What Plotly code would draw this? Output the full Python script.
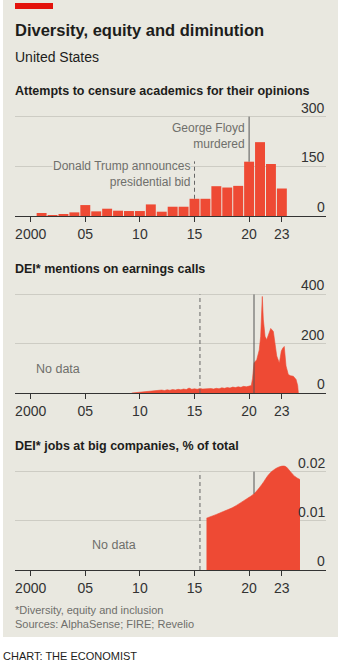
import plotly.graph_objects as go

W, H = 342, 665

# ---------------- data ----------------
CENSURE_YEARS = list(range(2001, 2024))
CENSURE_COUNTS = [9, 2, 6, 11, 33, 14, 22, 16, 15, 15, 35, 13, 28, 28,
                  52, 52, 90, 86, 91, 164, 223, 157, 83]

DEI_CALL_DATES = [
    2009.25, 2009.5, 2009.75, 2010.0, 2010.25, 2010.5, 2010.75, 2011.0,
    2011.25, 2011.5, 2011.75, 2012.0, 2012.25, 2012.5, 2012.75, 2013.0,
    2013.25, 2013.5, 2013.75, 2014.0, 2014.25, 2014.5, 2014.75, 2015.0,
    2015.25, 2015.5, 2015.75, 2016.0, 2016.25, 2016.5, 2016.75, 2017.0,
    2017.25, 2017.5, 2017.75, 2018.0, 2018.25, 2018.5, 2018.75, 2019.0,
    2019.25, 2019.5, 2019.75, 2020.0, 2020.2, 2020.32, 2020.38, 2020.45,
    2020.7, 2020.93, 2021.06, 2021.21, 2021.3, 2021.46, 2021.61, 2021.8,
    2021.98, 2022.22, 2022.4, 2022.53, 2022.77, 2022.95, 2023.08, 2023.22,
    2023.38, 2023.59, 2023.8, 2024.05, 2024.3, 2024.45, 2024.51,
]
DEI_CALL_MENTIONS = [
    0, 1, 2, 3, 5, 4, 6, 8,
    7, 10, 9, 12, 10, 13, 11, 14,
    12, 15, 13, 16, 14, 20, 15, 17,
    15, 18, 16, 17, 15, 18, 16, 19,
    17, 21, 19, 22, 20, 24, 22, 25,
    23, 27, 25, 28, 30, 60, 115, 122,
    135, 175, 230, 392, 300, 230, 216, 240,
    262, 250, 190, 150, 122, 170, 182, 189,
    110, 75, 70, 68, 55, 30, 0,
]

DEI_JOB_DATES = [2016.1, 2017.0, 2017.64, 2018.5, 2019.17, 2019.8, 2020.45,
                 2021.15, 2021.91, 2022.68, 2023.29, 2023.75, 2024.2, 2024.66]
DEI_JOB_SHARE = [0.01055, 0.0113, 0.0119, 0.0127, 0.0136, 0.0145, 0.0155,
                 0.01735, 0.0197, 0.0209, 0.0211, 0.0201, 0.0190, 0.0184]

XTICK_VALS = [2000, 2005, 2010, 2015, 2020, 2023]
XTICK_TEXT = ["2000", "05", "10", "15", "20", "23"]

CENSURE_TICKS = [0, 150, 300]
CENSURE_TICK_TEXT = ["0", "150", "300"]
CALL_TICKS = [0, 200, 400]
CALL_TICK_TEXT = ["0", "200", "400"]
JOB_TICKS = [0, 0.01, 0.02]
JOB_TICK_TEXT = ["0", "0.01", "0.02"]

TRUMP_BID = 2015.5
FLOYD = 2020.45
TRUMP_BAR_YEAR = 2015
FLOYD_BAR_YEAR = 2020

# ---------------- style ----------------
RED = "#ee4a34"
BG = "#e9e8e0"
INK = "#1d1d1b"
AXIS_INK = "#333333"
GREY = "#6f6f6b"
GRID = "#cdccc4"
FONT = "Liberation Sans, Arial, sans-serif"


def px(x):
    return x / W


def py(y):
    return 1 - y / H


fig = go.Figure()

fig.add_trace(go.Bar(
    x=CENSURE_YEARS, y=CENSURE_COUNTS, marker=dict(color=RED, line=dict(width=0)),
    xaxis="x", yaxis="y", showlegend=False, hoverinfo="x+y",
))
fig.add_trace(go.Scatter(
    x=DEI_CALL_DATES, y=DEI_CALL_MENTIONS, mode="lines", fill="tozeroy",
    fillcolor=RED, line=dict(color=RED, width=0.6),
    xaxis="x2", yaxis="y2", showlegend=False,
))
fig.add_trace(go.Scatter(
    x=DEI_JOB_DATES, y=DEI_JOB_SHARE, mode="lines", fill="tozeroy",
    fillcolor=RED, line=dict(color=RED, width=0.6, shape="spline", smoothing=1.0),
    xaxis="x3", yaxis="y3", showlegend=False,
))

x_range = [2000 - 15.7 / 10.92, 2000 + 295.3 / 10.92]
x_domain = [px(15), px(326)]

xaxis_common = dict(
    range=x_range, domain=x_domain, tickmode="array",
    tickvals=XTICK_VALS, ticktext=XTICK_TEXT,
    ticks="outside", ticklen=5, tickwidth=1, tickcolor=AXIS_INK,
    showline=True, linecolor=AXIS_INK, linewidth=1,
    showgrid=False, zeroline=False,
    tickfont=dict(family=FONT, size=14, color=AXIS_INK),
    fixedrange=True,
)
yaxis_common = dict(
    side="right", ticks="", showticklabels=False,
    showgrid=True, gridcolor=GRID, gridwidth=1, zeroline=False,
    showline=False, tickmode="array", fixedrange=True,
)

fig.update_layout(
    width=W, height=H, margin=dict(l=0, r=0, t=0, b=0),
    paper_bgcolor="white", plot_bgcolor="rgba(0,0,0,0)",
    bargap=0.09, showlegend=False,
    xaxis=dict(xaxis_common, anchor="y"),
    xaxis2=dict(xaxis_common, anchor="y2"),
    xaxis3=dict(xaxis_common, anchor="y3"),
    yaxis=dict(yaxis_common, anchor="x", range=[0, 305],
               domain=[py(216), py(115.0)], tickvals=CENSURE_TICKS),
    yaxis2=dict(yaxis_common, anchor="x2", range=[0, 410],
                domain=[py(393), py(292.0)], tickvals=CALL_TICKS),
    yaxis3=dict(yaxis_common, anchor="x3", range=[0, 0.0215],
                domain=[py(570), py(464.3)], tickvals=JOB_TICKS),
)

# value labels sit above their gridlines, flush with the right end
for yref, vals, labels in (("y", CENSURE_TICKS, CENSURE_TICK_TEXT),
                           ("y2", CALL_TICKS, CALL_TICK_TEXT),
                           ("y3", JOB_TICKS, JOB_TICK_TEXT)):
    for v, lab in zip(vals, labels):
        fig.add_annotation(
            xref="paper", yref=yref, x=px(326), y=v, text=lab,
            showarrow=False, xanchor="right", yanchor="bottom",
            font=dict(family=FONT, size=14, color=AXIS_INK), borderpad=0,
        )

shapes = [
    # panel background and red tab
    dict(type="rect", xref="paper", yref="paper", x0=px(3), x1=px(338),
         y0=py(637), y1=py(0), fillcolor=BG, line=dict(width=0), layer="below"),
    dict(type="rect", xref="paper", yref="paper", x0=px(15), x1=px(53),
         y0=py(9), y1=py(3), fillcolor="#e3120b", line=dict(width=0), layer="above"),
]

floyd_count = CENSURE_COUNTS[CENSURE_YEARS.index(FLOYD_BAR_YEAR)]
trump_count = CENSURE_COUNTS[CENSURE_YEARS.index(TRUMP_BAR_YEAR)]
floyd_share = DEI_JOB_SHARE[DEI_JOB_DATES.index(FLOYD)]

event_lines = [
    ("x", "y", FLOYD_BAR_YEAR, floyd_count, CENSURE_TICKS[-1], "solid"),
    ("x", "y", TRUMP_BAR_YEAR, trump_count, 165, "dash"),
    ("x2", "y2", FLOYD, 0, CALL_TICKS[-1], "solid"),
    ("x2", "y2", TRUMP_BID, 0, CALL_TICKS[-1], "dash"),
    ("x3", "y3", FLOYD, floyd_share, JOB_TICKS[-1], "solid"),
    ("x3", "y3", TRUMP_BID, 0, JOB_TICKS[-1], "dash"),
]
for xr, yr, xv, y0, y1, dash in event_lines:
    shapes.append(dict(
        type="line", xref=xr, yref=yr, x0=xv, x1=xv, y0=y0, y1=y1,
        line=dict(color="#555555" if dash == "solid" else "#666666",
                  width=1, dash=dash if dash == "solid" else "4px,3px"),
        layer="above",
    ))
fig.update_layout(shapes=shapes)


def text(x, y, s, size, color=INK, bold=False, anchor="left", bg=None):
    fig.add_annotation(
        xref="paper", yref="paper", x=px(x), y=py(y), text=f"<b>{s}</b>" if bold else s,
        showarrow=False, xanchor=anchor, yanchor="middle", align=anchor,
        font=dict(family=FONT, size=size, color=color),
        bgcolor=bg, borderpad=0,
    )


text(14, 30.2, "Diversity, equity and diminution", 16.5, bold=True)
text(14, 56.8, "United States", 14)
text(14, 90.6, "Attempts to censure academics for their opinions", 12.5, bold=True)
text(14, 268.9, "DEI* mentions on earnings calls", 12.5, bold=True)
text(14, 445.6, "DEI* jobs at big companies, % of total", 12.5, bold=True)

text(246, 136, "George Floyd<br>murdered", 12, color=GREY, anchor="right")
text(191, 174, "Donald Trump announces<br>presidential bid", 12, color=GREY,
     anchor="right", bg=BG)

text(35, 369, "No data", 12.5, color=GREY)
text(91, 545, "No data", 12.5, color=GREY)

text(14, 609.5, "*Diversity, equity and inclusion", 11, color=GREY)
text(14, 623.8, "Sources: AlphaSense; FIRE; Revelio", 11, color=GREY)
text(2, 655.5, "CHART: THE ECONOMIST", 11, color=INK)

fig.write_html("out.html")
